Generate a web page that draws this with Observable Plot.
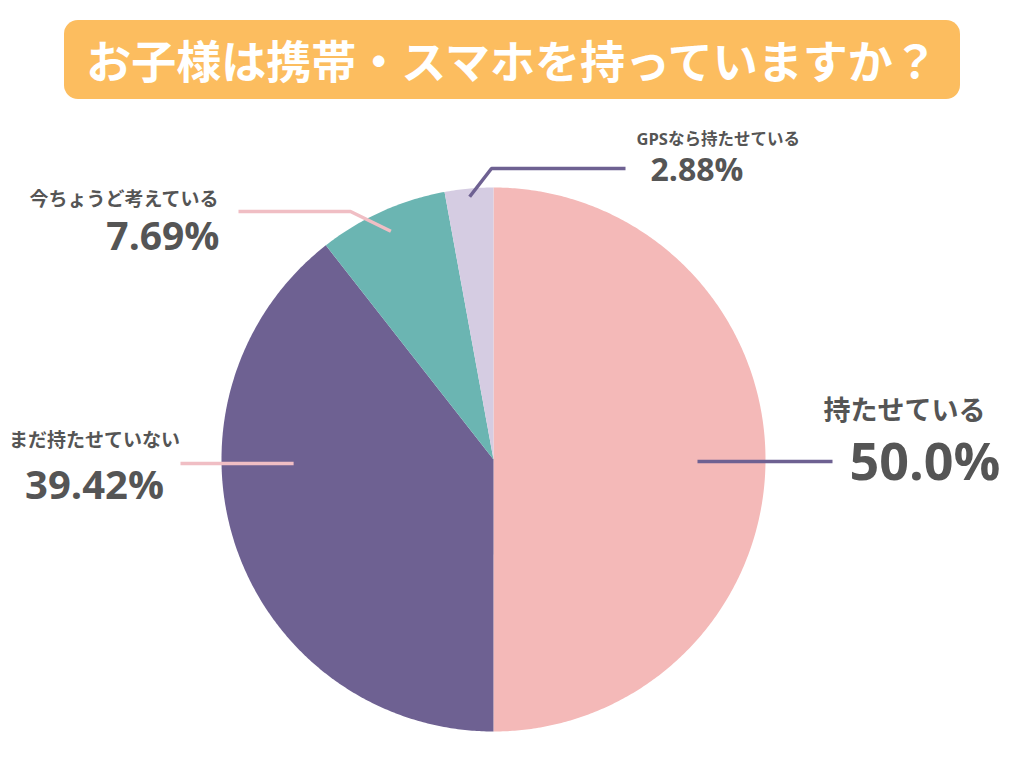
<!DOCTYPE html>
<html><head><meta charset="utf-8">
<script src="https://cdn.jsdelivr.net/npm/d3@7"></script>
<script src="https://cdn.jsdelivr.net/npm/@observablehq/plot@0.6"></script>
<style>
body{margin:0;background:#fff;width:1024px;height:768px;overflow:hidden;font-family:"Open Sans","Noto Sans CJK JP",sans-serif;}
#title{margin:20px 64px 0;height:79px;border-radius:14px;background:#fcbd5f;color:#fff;font-family:"Noto Sans CJK JP",sans-serif;font-weight:700;font-size:45px;display:flex;align-items:center;justify-content:center;}
#chart{margin-top:11px;}
#chart svg{display:block;}
</style></head><body>
<div id="title">お子様は携帯・スマホを持っていますか？</div>
<div id="chart"></div>
<script>
// ---- data ----
const categories = ["持たせている", "まだ持たせていない", "今ちょうど考えている", "GPSなら持たせている"];
const shares = [50.0, 39.42, 7.69, 2.88];
const shareLabels = ["50.0%", "39.42%", "7.69%", "2.88%"];
const sliceColors = ["#f4b9b8", "#6e6192", "#6bb5b2", "#d5cce2"];

// ---- layout (page-pixel units of the x/y scales) ----
const pie = {cx: 493, cy: 459, r: 272};
const leaderColors = ["#6e6192", "#f0bec4", "#f0bec4", "#6e6192"];
const leaderAngle = [90.56, 268.85, null, null];      // degrees clockwise from top; null = slice middle
const leaderRadius = [0.75, 0.735, 0.92, 0.97];
const leaderPath = [[[832, 461]], [[180, 463]], [[350, 211], [238, 211]], [[491, 168], [625, 168]]];
const nameLayout = [
  {x: 823, y: 411, anchor: "start", size: 27},
  {x: 94, y: 440, anchor: "middle", size: 19},
  {x: 218, y: 199, anchor: "end", size: 19},
  {x: 636, y: 139, anchor: "start", size: 16.5}
];
const pctLayout = [
  {x: 849, y: 463, anchor: "start", size: 52},
  {x: 94, y: 486, anchor: "middle", size: 40},
  {x: 219, y: 237, anchor: "end", size: 39},
  {x: 650, y: 170, anchor: "start", size: 32}
];
const textColor = "#555555";

// ---- pie geometry from the shares ----
const arcs = d3.pie().sort(null).value(d => d)(shares);
const slicePts = [];
arcs.forEach((a, i) => {
  slicePts.push({k: categories[i], x: pie.cx, y: pie.cy});
  const n = Math.max(2, Math.ceil((a.endAngle - a.startAngle) / (Math.PI / 360)));
  for (let j = 0; j <= n; j++) {
    const t = a.startAngle + (a.endAngle - a.startAngle) * j / n;
    slicePts.push({k: categories[i], x: pie.cx + pie.r * Math.sin(t), y: pie.cy - pie.r * Math.cos(t)});
  }
});

const marks = [
  Plot.line(slicePts, {x: "x", y: "y", z: "k", fill: "k", stroke: "none"})
];

arcs.forEach((a, i) => {
  const ang = leaderAngle[i] == null ? (a.startAngle + a.endAngle) / 2 : leaderAngle[i] * Math.PI / 180;
  const rr = pie.r * leaderRadius[i];
  const pts = [[pie.cx + rr * Math.sin(ang), pie.cy - rr * Math.cos(ang)], ...leaderPath[i]];
  marks.push(Plot.line(pts, {x: d => d[0], y: d => d[1], stroke: leaderColors[i], strokeWidth: 3.5,
    strokeLinecap: "butt", strokeLinejoin: "miter"}));
  const nl = nameLayout[i], pl = pctLayout[i];
  marks.push(Plot.text([categories[i]], {x: () => nl.x, y: () => nl.y, text: d => d, textAnchor: nl.anchor,
    fontSize: nl.size, fontWeight: 700, fill: textColor, fontFamily: '"Open Sans","Noto Sans CJK JP",sans-serif'}));
  marks.push(Plot.text([shareLabels[i]], {x: () => pl.x, y: () => pl.y, text: d => d, textAnchor: pl.anchor,
    fontSize: pl.size, fontWeight: 700, fill: textColor, fontFamily: '"Open Sans","Noto Sans CJK JP",sans-serif'}));
});

const chart = Plot.plot({
  width: 1024,
  height: 658,
  margin: 0,
  x: {domain: [0, 1024], range: [0, 1024], axis: null},
  y: {domain: [110, 768], range: [0, 658], axis: null},
  color: {domain: categories, range: sliceColors},
  marks
});
document.getElementById("chart").appendChild(chart);
</script>
</body></html>
